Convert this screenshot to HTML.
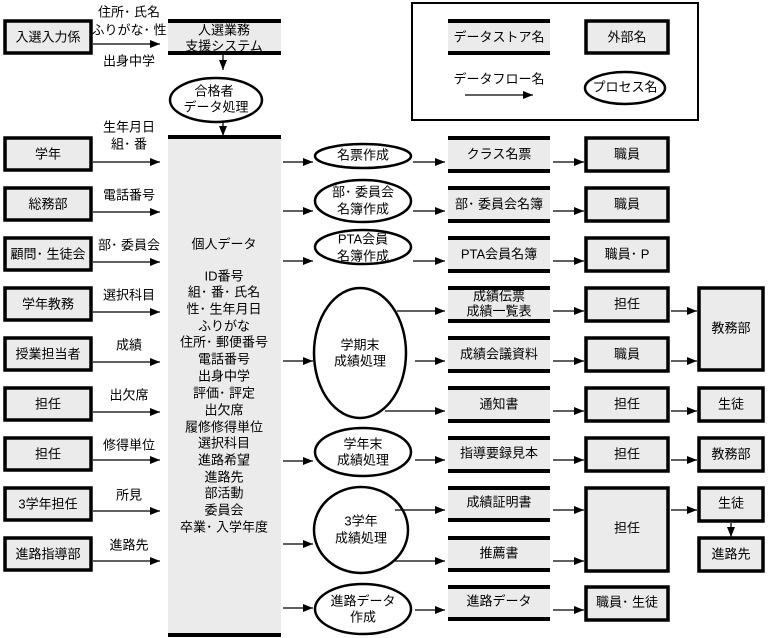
<!DOCTYPE html>
<html><head><meta charset="utf-8"><style>
body{margin:0;background:#fff}
svg{display:block}
text{font-family:"Liberation Sans","Noto Sans CJK JP",sans-serif;font-size:13px;fill:#000;text-anchor:middle;dominant-baseline:middle}
.ext{fill:#ebebeb;stroke:#000;stroke-width:3.5}
.st{fill:#ebebeb}
.sl{stroke:#000;stroke-width:4}
.pr{fill:#fff;stroke:#000;stroke-width:2.5}
.ar{stroke:#000;stroke-width:1.3;fill:none;marker-end:url(#ah)}
</style></head><body>
<svg width="772" height="638" viewBox="0 0 772 638" xmlns="http://www.w3.org/2000/svg">
<defs><marker id="ah" markerWidth="10" markerHeight="8" refX="10" refY="4" orient="auto" markerUnits="userSpaceOnUse"><path d="M0,0 L10,4 L0,8 z" fill="#000"/></marker></defs>

<!-- legend -->
<rect x="412" y="3" width="286" height="117" fill="none" stroke="#000" stroke-width="2"/>
<rect class="st" x="448" y="20" width="102" height="34"/><line class="sl" x1="448" y1="21" x2="550" y2="21"/><line class="sl" x1="448" y1="53" x2="550" y2="53"/>
<text x="499" y="38">データストア名</text>
<rect class="ext" x="586" y="21" width="82" height="32"/><text x="627" y="38">外部名</text>
<text x="499" y="80">データフロー名</text>
<line class="ar" x1="465" y1="95" x2="533" y2="95"/>
<ellipse class="pr" cx="625" cy="88" rx="40" ry="16"/><text x="625" y="88">プロセス名</text>

<!-- top -->
<rect class="ext" x="5" y="21" width="86" height="32"/><text x="48" y="38">入選入力係</text>
<text x="129" y="13">住所･ 氏名</text><text x="129" y="31">ふりがな･ 性</text><text x="129" y="62">出身中学</text>
<line class="ar" x1="93" y1="44" x2="160" y2="44"/>
<rect class="st" x="168" y="20" width="113" height="34"/><line class="sl" x1="168" y1="21" x2="281" y2="21"/><line class="sl" x1="168" y1="53" x2="281" y2="53"/>
<text x="224" y="31">人選業務</text><text x="224" y="47">支援システム</text>
<line class="ar" x1="223" y1="55" x2="223" y2="70"/>
<ellipse class="pr" cx="216" cy="100" rx="46" ry="22"/><text x="214" y="92">合格者</text><text x="216" y="108">データ処理</text>
<line class="ar" x1="223" y1="122" x2="223" y2="136"/>

<!-- big store -->
<rect class="st" x="168" y="136" width="113" height="500"/><line class="sl" x1="168" y1="137" x2="281" y2="137"/><line class="sl" x1="168" y1="635" x2="281" y2="635"/>
<text x="224" y="245">個人データ</text>
<text x="224" y="277">ID番号</text><text x="224" y="293">組･ 番･ 氏名</text><text x="224" y="310">性･ 生年月日</text><text x="224" y="327">ふりがな</text><text x="224" y="343">住所･ 郵便番号</text><text x="224" y="360">電話番号</text><text x="224" y="377">出身中学</text><text x="224" y="394">評価･ 評定</text><text x="224" y="411">出欠席</text><text x="224" y="428">履修修得単位</text><text x="224" y="444">選択科目</text><text x="224" y="461">進路希望</text><text x="224" y="478">進路先</text><text x="224" y="494">部活動</text><text x="224" y="511">委員会</text><text x="224" y="528">卒業･ 入学年度</text>

<!-- left externals -->
<rect class="ext" x="5" y="138" width="86" height="32"/><text x="48" y="155">学年</text>
<text x="129" y="128">生年月日</text><text x="129" y="145">組･ 番</text><line class="ar" x1="93" y1="162" x2="160" y2="162"/>
<rect class="ext" x="5" y="188" width="86" height="32"/><text x="48" y="205">総務部</text>
<text x="129" y="196">電話番号</text><line class="ar" x1="93" y1="212" x2="160" y2="212"/>
<rect class="ext" x="5" y="238" width="86" height="32"/><text x="48" y="255">顧問･ 生徒会</text>
<text x="129" y="246">部･ 委員会</text><line class="ar" x1="93" y1="262" x2="160" y2="262"/>
<rect class="ext" x="5" y="288" width="86" height="32"/><text x="48" y="305">学年教務</text>
<text x="129" y="296">選択科目</text><line class="ar" x1="93" y1="312" x2="160" y2="312"/>
<rect class="ext" x="5" y="338" width="86" height="32"/><text x="48" y="355">授業担当者</text>
<text x="129" y="346">成績</text><line class="ar" x1="93" y1="362" x2="160" y2="362"/>
<rect class="ext" x="5" y="388" width="86" height="32"/><text x="48" y="405">担任</text>
<text x="129" y="396">出欠席</text><line class="ar" x1="93" y1="412" x2="160" y2="412"/>
<rect class="ext" x="5" y="438" width="86" height="32"/><text x="48" y="455">担任</text>
<text x="129" y="446">修得単位</text><line class="ar" x1="93" y1="460" x2="160" y2="460"/>
<rect class="ext" x="5" y="488" width="86" height="32"/><text x="48" y="505">3学年担任</text>
<text x="129" y="496">所見</text><line class="ar" x1="93" y1="511" x2="160" y2="511"/>
<rect class="ext" x="5" y="538" width="86" height="32"/><text x="48" y="555">進路指導部</text>
<text x="129" y="546">進路先</text><line class="ar" x1="93" y1="561" x2="160" y2="561"/>

<!-- store -> processes -->
<line class="ar" x1="283" y1="162" x2="313" y2="162"/>
<line class="ar" x1="283" y1="211" x2="313" y2="211"/>
<line class="ar" x1="283" y1="261" x2="313" y2="261"/>
<line class="ar" x1="283" y1="361" x2="313" y2="361"/>
<line class="ar" x1="283" y1="461" x2="313" y2="461"/>
<line class="ar" x1="283" y1="544" x2="313" y2="544"/>
<line class="ar" x1="283" y1="608" x2="313" y2="608"/>

<!-- processes -->
<ellipse class="pr" cx="363" cy="156" rx="48" ry="12"/><text x="363" y="156">名票作成</text>
<ellipse class="pr" cx="363" cy="201" rx="48" ry="21"/><text x="363" y="193">部･ 委員会</text><text x="363" y="210">名簿作成</text>
<ellipse class="pr" cx="363" cy="247" rx="48" ry="17"/><text x="363" y="240">PTA会員</text><text x="363" y="257">名簿作成</text>
<ellipse class="pr" cx="360" cy="353" rx="46" ry="65"/><text x="360" y="346">学期末</text><text x="360" y="362">成績処理</text>
<ellipse class="pr" cx="363" cy="452" rx="48" ry="24"/><text x="363" y="445">学年末</text><text x="363" y="461">成績処理</text>
<ellipse class="pr" cx="361" cy="530" rx="47" ry="43"/><text x="361" y="522">3学年</text><text x="361" y="539">成績処理</text>
<ellipse class="pr" cx="363" cy="609" rx="48" ry="25"/><text x="363" y="602">進路データ</text><text x="363" y="618">作成</text>

<!-- process -> stores -->
<line class="ar" x1="413" y1="162" x2="445" y2="162"/>
<line class="ar" x1="413" y1="211" x2="445" y2="211"/>
<line class="ar" x1="413" y1="261" x2="445" y2="261"/>
<line class="ar" x1="397" y1="311" x2="445" y2="311"/>
<line class="ar" x1="415" y1="361" x2="445" y2="361"/>
<line class="ar" x1="385" y1="411" x2="445" y2="411"/>
<line class="ar" x1="415" y1="460" x2="445" y2="460"/>
<line class="ar" x1="395" y1="510" x2="445" y2="510"/>
<line class="ar" x1="395" y1="561" x2="445" y2="561"/>
<line class="ar" x1="415" y1="610" x2="445" y2="610"/>

<!-- stores -->
<g>
<rect class="st" x="448" y="137" width="102" height="35"/><line class="sl" x1="448" y1="138" x2="550" y2="138"/><line class="sl" x1="448" y1="171" x2="550" y2="171"/><text x="499" y="155">クラス名票</text>
<rect class="st" x="448" y="187" width="102" height="35"/><line class="sl" x1="448" y1="188" x2="550" y2="188"/><line class="sl" x1="448" y1="221" x2="550" y2="221"/><text x="499" y="205">部･ 委員会名簿</text>
<rect class="st" x="448" y="237" width="102" height="35"/><line class="sl" x1="448" y1="238" x2="550" y2="238"/><line class="sl" x1="448" y1="271" x2="550" y2="271"/><text x="499" y="255">PTA会員名簿</text>
<rect class="st" x="448" y="287" width="102" height="35"/><line class="sl" x1="448" y1="288" x2="550" y2="288"/><line class="sl" x1="448" y1="321" x2="550" y2="321"/><text x="499" y="297">成績伝票</text><text x="499" y="312">成績一覧表</text>
<rect class="st" x="448" y="337" width="102" height="35"/><line class="sl" x1="448" y1="338" x2="550" y2="338"/><line class="sl" x1="448" y1="371" x2="550" y2="371"/><text x="499" y="355">成績会議資料</text>
<rect class="st" x="448" y="387" width="102" height="35"/><line class="sl" x1="448" y1="388" x2="550" y2="388"/><line class="sl" x1="448" y1="421" x2="550" y2="421"/><text x="499" y="405">通知書</text>
<rect class="st" x="448" y="437" width="102" height="35"/><line class="sl" x1="448" y1="438" x2="550" y2="438"/><line class="sl" x1="448" y1="471" x2="550" y2="471"/><text x="499" y="454">指導要録見本</text>
<rect class="st" x="448" y="487" width="102" height="34"/><line class="sl" x1="448" y1="488" x2="550" y2="488"/><line class="sl" x1="448" y1="520" x2="550" y2="520"/><text x="499" y="503">成績証明書</text>
<rect class="st" x="448" y="537" width="102" height="34"/><line class="sl" x1="448" y1="538" x2="550" y2="538"/><line class="sl" x1="448" y1="570" x2="550" y2="570"/><text x="499" y="554">推薦書</text>
<rect class="st" x="448" y="586" width="102" height="34"/><line class="sl" x1="448" y1="587" x2="550" y2="587"/><line class="sl" x1="448" y1="619" x2="550" y2="619"/><text x="499" y="602">進路データ</text>
</g>

<!-- store -> externals -->
<line class="ar" x1="553" y1="162" x2="584" y2="162"/>
<line class="ar" x1="553" y1="211" x2="584" y2="211"/>
<line class="ar" x1="553" y1="261" x2="584" y2="261"/>
<line class="ar" x1="553" y1="311" x2="584" y2="311"/>
<line class="ar" x1="553" y1="361" x2="584" y2="361"/>
<line class="ar" x1="553" y1="411" x2="584" y2="411"/>
<line class="ar" x1="553" y1="460" x2="584" y2="460"/>
<line class="ar" x1="553" y1="510" x2="584" y2="510"/>
<line class="ar" x1="553" y1="561" x2="584" y2="561"/>
<line class="ar" x1="553" y1="610" x2="584" y2="610"/>

<!-- externals col3 -->
<rect class="ext" x="586" y="138" width="82" height="33"/><text x="627" y="155">職員</text>
<rect class="ext" x="586" y="188" width="82" height="33"/><text x="627" y="205">職員</text>
<rect class="ext" x="586" y="238" width="82" height="33"/><text x="627" y="255">職員･ P</text>
<rect class="ext" x="586" y="288" width="82" height="33"/><text x="627" y="305">担任</text>
<rect class="ext" x="586" y="338" width="82" height="33"/><text x="627" y="355">職員</text>
<rect class="ext" x="586" y="388" width="82" height="33"/><text x="627" y="405">担任</text>
<rect class="ext" x="586" y="438" width="82" height="33"/><text x="627" y="455">担任</text>
<rect class="ext" x="586" y="488" width="82" height="83"/><text x="627" y="529">担任</text>
<rect class="ext" x="586" y="587" width="82" height="33"/><text x="627" y="603">職員･ 生徒</text>

<!-- col3 -> col4 -->
<line class="ar" x1="671" y1="311" x2="697" y2="311"/>
<line class="ar" x1="671" y1="361" x2="697" y2="361"/>
<line class="ar" x1="671" y1="411" x2="697" y2="411"/>
<line class="ar" x1="671" y1="460" x2="697" y2="460"/>
<line class="ar" x1="671" y1="510" x2="697" y2="510"/>

<!-- col4 -->
<rect class="ext" x="699" y="288" width="64" height="82"/><text x="731" y="329">教務部</text>
<rect class="ext" x="699" y="388" width="64" height="33"/><text x="731" y="405">生徒</text>
<rect class="ext" x="699" y="438" width="64" height="33"/><text x="731" y="455">教務部</text>
<rect class="ext" x="699" y="488" width="64" height="33"/><text x="731" y="504">生徒</text>
<line class="ar" x1="731" y1="523" x2="731" y2="537"/>
<rect class="ext" x="699" y="538" width="64" height="33"/><text x="731" y="555">進路先</text>
</svg>
</body></html>
